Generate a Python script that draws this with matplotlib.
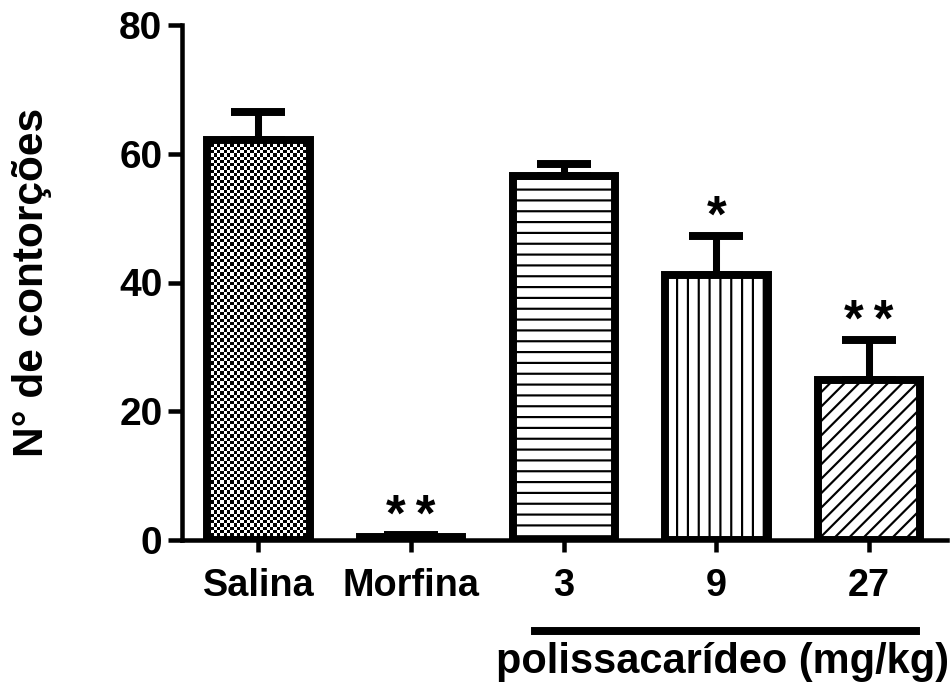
import numpy as np
import matplotlib
matplotlib.use("Agg")
import matplotlib.pyplot as plt
from matplotlib.lines import Line2D

# dados (média e erro padrão)
grupos = ["Salina", "Morfina", "3", "9", "27"]
medias = [62.1, 0.4, 56.5, 41.2, 24.9]
erros = [4.4, 0.3, 1.9, 6.0, 6.1]
signif = ["", "*\u2009*", "", "*", "*\u2009*"]
hachuras = ["", "", "--", "||", "///"]

plt.rcParams["font.family"] = ["Liberation Sans", "DejaVu Sans"]
plt.rcParams["font.weight"] = "bold"
plt.rcParams["hatch.linewidth"] = 1.2

DPI = 130
fig = plt.figure(figsize=(951 / DPI, 693 / DPI), dpi=DPI)
ax = fig.add_axes([182 / 951, 153 / 693, (947 - 182) / 951, (540 - 25) / 693])

x = np.arange(len(grupos))
largura = 0.67

# barras de erro (só para cima), por baixo das barras
ax.errorbar(x, medias, yerr=[np.zeros(len(erros)), erros], fmt="none",
            ecolor="black", elinewidth=3.9, capsize=15, capthick=4.4, zorder=1.5)

barras = ax.bar(x, medias, width=largura, color="white", edgecolor="black",
                linewidth=0, zorder=2)
for b, h in zip(barras, hachuras):
    b.set_hatch(h)

ax.set_xlim(-0.5, 4.51)
ax.set_ylim(0, 80)

# padrão xadrez da Salina
b0 = barras[0]
fig.canvas.draw()
p0 = ax.transData.transform((b0.get_x(), 0))
p1 = ax.transData.transform((b0.get_x() + b0.get_width(), b0.get_height()))
nx = int(round(abs(p1[0] - p0[0]) / 3.3))
ny = int(round(abs(p1[1] - p0[1]) / 3.3))
xadrez = (np.indices((ny, nx)).sum(axis=0) % 2).astype(float)
im = ax.imshow(xadrez, cmap="gray", interpolation="nearest", aspect="auto",
               extent=(b0.get_x(), b0.get_x() + b0.get_width(), 0, b0.get_height()),
               zorder=2.5)
im.set_clip_path(b0)

# contornos das barras por cima
ax.bar(x, medias, width=largura, fill=False, edgecolor="black",
       linewidth=4.4, zorder=3)

# asteriscos
for xi, m, e, s in zip(x, medias, erros, signif):
    if s:
        ax.annotate(s, (xi, m + e), xytext=(0, 2.5), textcoords="offset points",
                    ha="center", va="baseline", fontsize=28, fontweight="bold")

for lado in ["top", "right"]:
    ax.spines[lado].set_visible(False)
for lado in ["left", "bottom"]:
    ax.spines[lado].set_linewidth(2.5)

ax.set_yticks([0, 20, 40, 60, 80])
ax.set_xticks(x)
ax.set_xticklabels(grupos)
ax.tick_params(axis="y", length=7.8, width=2.5, labelsize=21.5, pad=3)
ax.tick_params(axis="x", length=6.6, width=2.5, labelsize=21, pad=9)
for t in ax.get_xticklabels() + ax.get_yticklabels():
    t.set_fontweight("bold")

ax.set_ylabel("N° de contorções", fontsize=23.5, fontweight="bold")
ax.yaxis.set_label_coords(-0.170, 0.5)

# linha e legenda do polissacarídeo
fig.add_artist(Line2D([535 / 951, 916 / 951], [1 - 631 / 693, 1 - 631 / 693],
                      color="black", linewidth=4.4, transform=fig.transFigure))
fig.text(723 / 951, 1 - 662 / 693, "polissacarídeo (mg/kg)", ha="center",
         va="center", fontsize=23, fontweight="bold")

fig.savefig("out.png", dpi=DPI)
